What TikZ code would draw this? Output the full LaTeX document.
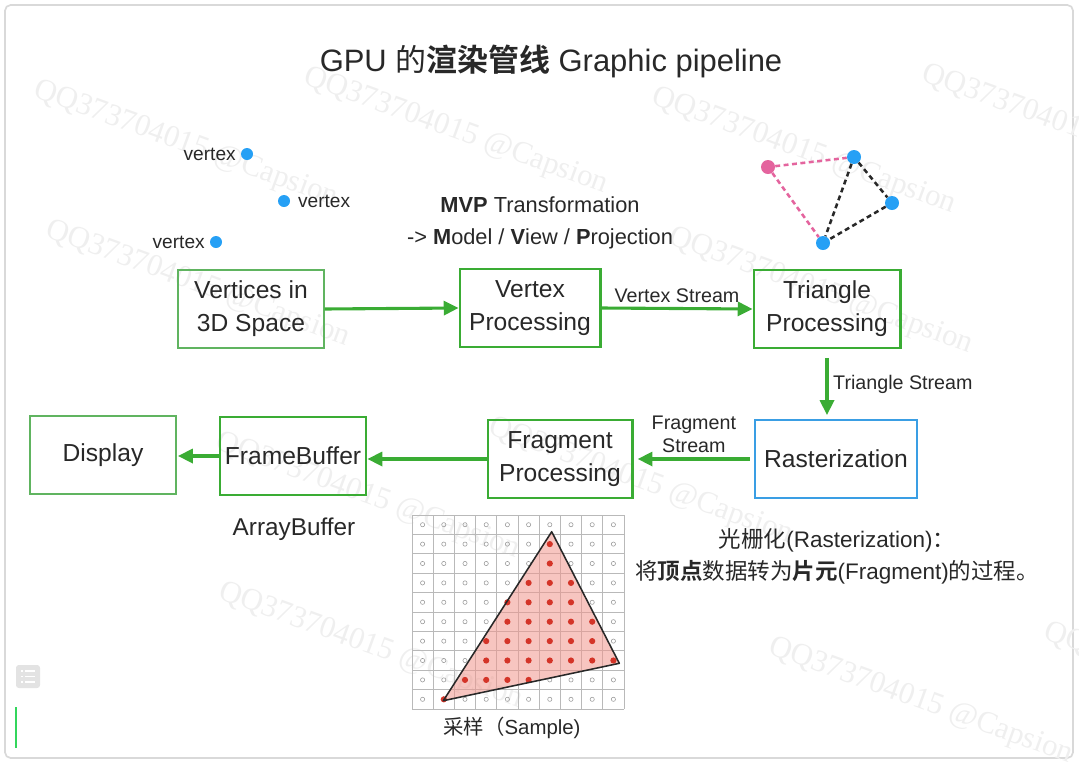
\documentclass[tikz,border=0pt]{standalone}
\usepackage{fontspec}
\setmainfont{Liberation Sans}
\newfontfamily\cjk{Noto Sans CJK SC}[BoldFont={Noto Sans CJK SC Bold}]
\newfontfamily\wmfont{Liberation Serif}
\usepackage{tikz}
\usetikzlibrary{arrows.meta, positioning}

\definecolor{pgreen}{RGB}{58,172,52}
\definecolor{lgreen}{RGB}{96,180,96}
\definecolor{rblue}{RGB}{58,158,228}
\definecolor{dblue}{RGB}{38,160,245}
\definecolor{dpink}{RGB}{228,100,158}
\definecolor{txt}{RGB}{40,40,40}
\definecolor{sred}{RGB}{212,52,40}
\definecolor{tpink}{RGB}{240,150,140}
\definecolor{wmgray}{RGB}{239,239,239}
\newcommand{\fsz}[2]{\fontsize{#1}{#2}\selectfont}

\begin{document}
\begin{tikzpicture}[x=0.025cm, y=-0.025cm,
      box/.style={draw=pgreen, line width=2.1pt, text=txt,
                  minimum width=3.65cm, minimum height=1.95cm,
                  font=\fsz{17.5}{23.5}, align=center, inner sep=2pt},
      tbox/.style={box, draw=lgreen, line width=0.8pt},
      arr/.style={-{Triangle[length=10.5pt, width=10pt]}, line width=2.2pt, pgreen},
      lbl/.style={font=\fsz{14}{16.5}, text=txt, align=center},
      vlbl/.style={font=\fsz{13.6}{16}, text=txt},
      vdot/.style={circle, fill=dblue, minimum size=0.3cm, inner sep=0pt},
      tdot/.style={circle, fill=#1, minimum size=0.35cm, inner sep=0pt},
      tedge/.style={line width=1.8pt, dash pattern=on 3.5pt off 2.5pt, #1},
      wm/.style={font=\wmfont\fsz{22}{24}, text=wmgray, rotate=-20, anchor=west},
      smpl/.style={draw=gray!80, line width=0.4pt},
      sdot/.style={fill=sred}
    ]

    \useasboundingbox (0,0) rectangle (1079,764);

    %% ---- card and watermarks ----
    \draw[gray!30, line width=1.2pt, rounded corners=4pt] (5,5) rectangle (1073,758);
    \node[wm] at (30,88)   (wm1)  {QQ373704015 @Capsion};
    \node[wm] at (300,75)  (wm2)  {QQ373704015 @Capsion};
    \node[wm] at (648,95)  (wm3)  {QQ373704015 @Capsion};
    \node[wm] at (918,72)  (wm4)  {QQ373704015 @Capsion};
    \node[wm] at (42,228)  (wm5)  {QQ373704015 @Capsion};
    \node[wm] at (665,235) (wm6)  {QQ373704015 @Capsion};
    \node[wm] at (212,440) (wm7)  {QQ373704015 @Capsion};
    \node[wm] at (485,425) (wm8)  {QQ373704015 @Capsion};
    \node[wm] at (215,590) (wm9)  {QQ373704015 @Capsion};
    \node[wm] at (765,645) (wm10) {QQ373704015 @Capsion};
    \node[wm] at (1040,630) (wm11) {QQ373704015 @Capsion};

    %% side icon + cursor
    \fill[gray!22, rounded corners=2pt] (16,665) rectangle (40,688);
    \foreach \yy in {671,676.5,682}
      \draw[white, line width=1pt] (21,\yy) -- (23,\yy) (25,\yy) -- (35,\yy);
    \draw[green!60!teal!80, line width=1.3pt] (16,707) -- (16,748);

    %% ---- title ----
    \node[font=\fsz{22}{25}, text=txt, anchor=base] at (551,71) (title)
          {GPU {\cjk 的\textbf{渲染管线}} Graphic pipeline};

    %% ---- vertices (top left) ----
    \node[vdot] at (247,154) (v1) {};
    \node[vdot] at (284,201) (v2) {};
    \node[vdot] at (216,242) (v3) {};
    \node[vlbl, left=0pt of v1]  (v1l) {vertex};
    \node[vlbl, right=2pt of v2] (v2l) {vertex};
    \node[vlbl, left=0pt of v3]  (v3l) {vertex};

    %% MVP note
    \node[font=\fsz{15.5}{22.8}, text=txt, align=center] at (540,223) (mvp)
          {\textbf{MVP} Transformation\\-> \textbf{M}odel / \textbf{V}iew / \textbf{P}rojection};

    %% ---- triangle (top right) ----
    \node[tdot=dpink] at (768,167) (t0) {};
    \node[tdot=dblue] at (854,157) (t1) {};
    \node[tdot=dblue] at (892,203) (t2) {};
    \node[tdot=dblue] at (823,243) (t3) {};
    \draw[tedge=dpink] (t0) -- (t1);
    \draw[tedge=dpink] (t0) -- (t3);
    \draw[tedge=txt] (t1) -- (t3);
    \draw[tedge=txt] (t1) -- (t2);
    \draw[tedge=txt] (t2) -- (t3);

    %% ---- pipeline boxes ----
    \node[tbox] at (251,309) (vert3d) {Vertices in\\3D Space};
    \node[box, minimum width=3.5cm] at (530,308) (vproc) {Vertex\\Processing};
    \node[box] at (827,309) (tproc) {Triangle\\Processing};
    \node[tbox, draw=rblue, line width=1.1pt, minimum width=4.05cm]
          at (836,459) (raster) {Rasterization};
    \node[box, minimum width=3.6cm] at (560,459) (fproc) {Fragment\\Processing};
    \node[box] at (293,456) (fbuf) {FrameBuffer};
    \node[tbox] at (103,455) (disp) {Display};

    %% ---- edges ----
    \draw[arr] (vert3d.east) -- (vproc.west);
    \draw[arr] (vproc.east) -- node[lbl, above] (vslbl) {Vertex Stream} (tproc.west);
    \draw[arr, shorten <=6pt, shorten >=3pt] (tproc.south)
          -- node[lbl, right] (tslbl) {Triangle Stream} (tproc.south |- raster.north);
    \draw[arr, shorten <=3pt, shorten >=3pt] (raster.west)
          -- node[lbl, above] (fslbl) {Fragment\\Stream} (fproc.east);
    \draw[arr] (fproc.west) -- (fbuf.east |- fproc.west);
    \draw[arr, shorten >=1pt] (fbuf.west) -- (disp.east |- fbuf.west);

    \node[font=\fsz{17.3}{20}, text=txt, anchor=base] at (294,535) (abuf) {ArrayBuffer};

    %% ---- rasterization note ----
    \node[font=\fsz{16}{22.8}, text=txt, align=center] at (837,556) (rnote)
          {{\cjk 光栅化}(Rasterization){\cjk ：}\\
           {\cjk 将\textbf{顶点}数据转为\textbf{片元}}(Fragment){\cjk 的过程。}};

    %% ---- sample grid ----
    \foreach \i in {0,...,10} {
      \draw[gray!55, line width=0.5pt] (412+21.2*\i,515) -- (412+21.2*\i,709);
      \draw[gray!55, line width=0.5pt] (412,515+19.4*\i) -- (624,515+19.4*\i);
    }
    \coordinate (ta) at (551.7,531.7);
    \coordinate (tb) at (619.3,663.3);
    \coordinate (tc) at (443.3,700.7);
    \fill[tpink, fill opacity=0.55] (ta) -- (tb) -- (tc) -- cycle;
    \foreach \c in {0,...,9}
      \foreach \r in {0,...,9}
        \draw[smpl] (422.6+21.2*\c, 524.7+19.4*\r) circle (1.5pt);
    \foreach \r/\cs in {1/{6}, 2/{6}, 3/{5,6,7}, 4/{4,5,6,7}, 5/{4,5,6,7,8},
                        6/{3,4,5,6,7,8}, 7/{3,4,5,6,7,8,9}, 8/{2,3,4,5}, 9/{1}}
      \foreach \c in \cs
        \fill[sdot] (422.6+21.2*\c, 524.7+19.4*\r) circle (2.2pt);
    \draw[txt, line width=1.1pt, line join=round] (ta) -- (tb) -- (tc) -- cycle;

    \node[font=\fsz{14.5}{17}, text=txt] at (512,728) (smp)
          {{\cjk 采样（}Sample)};

  \end{tikzpicture}
\end{document}
